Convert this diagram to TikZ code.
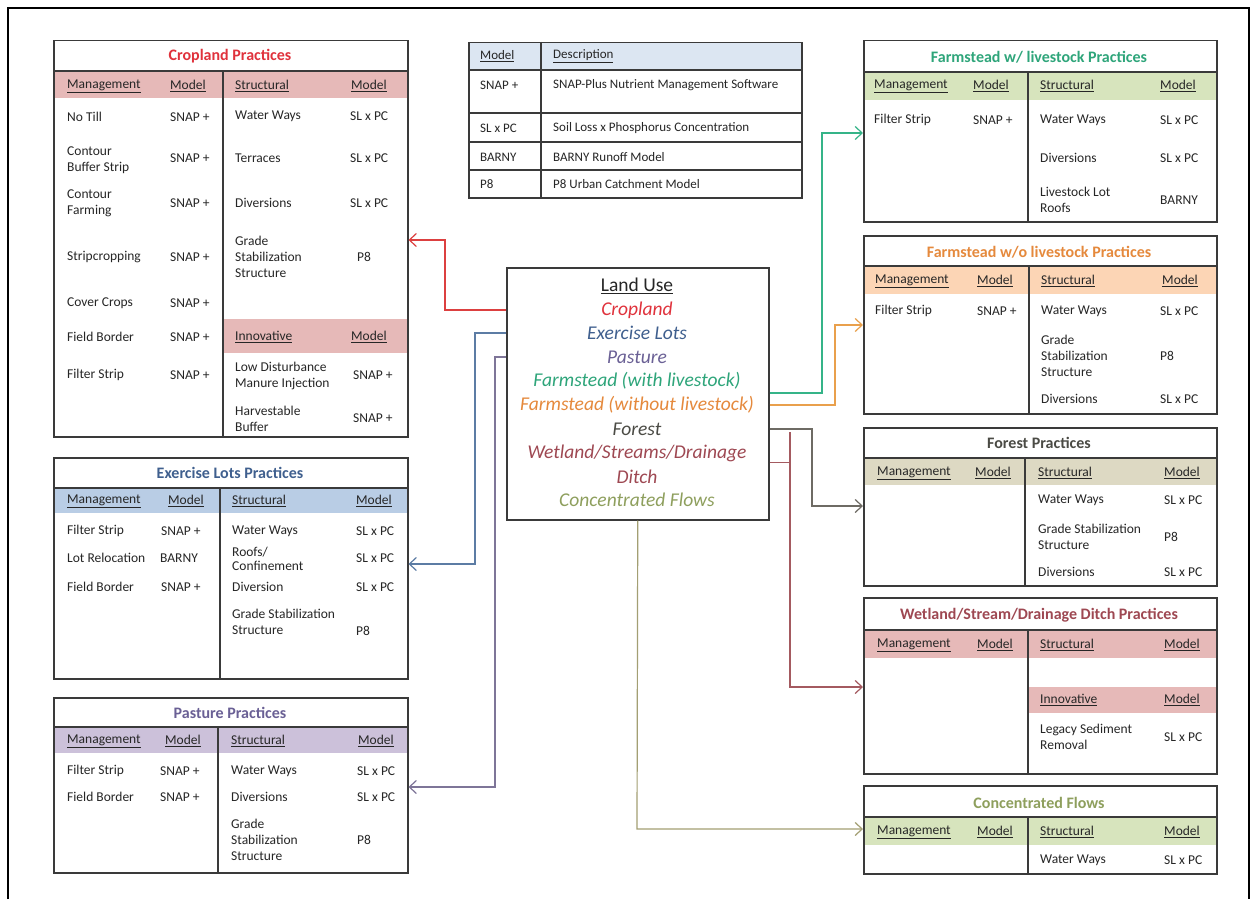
\documentclass[tikz,border=0pt]{standalone}
\usepackage{fontspec}
\setmainfont{Carlito}
\usepackage{tikz}
\usetikzlibrary{arrows.meta,positioning,calc}

\definecolor{framegray}{HTML}{3A3A3A}
\definecolor{textgray}{HTML}{262626}
\definecolor{cropred}{HTML}{E0323C}
\definecolor{cropline}{HTML}{DC4040}
\definecolor{cropfill}{HTML}{E6B9B8}
\definecolor{exblue}{HTML}{3F5F8E}
\definecolor{exline}{HTML}{5C7CA4}
\definecolor{exfill}{HTML}{B9CDE5}
\definecolor{pasviolet}{HTML}{6A6095}
\definecolor{pasline}{HTML}{7E7598}
\definecolor{pasfill}{HTML}{CCC1DA}
\definecolor{fwgreen}{HTML}{2EA57A}
\definecolor{fwline}{HTML}{35B488}
\definecolor{fwfill}{HTML}{D7E4BD}
\definecolor{fwoorange}{HTML}{E5893C}
\definecolor{fwoline}{HTML}{E9A04C}
\definecolor{fwofill}{HTML}{FCD5B5}
\definecolor{forgray}{HTML}{4B4B45}
\definecolor{forline}{HTML}{6E6B64}
\definecolor{forfill}{HTML}{DDD9C3}
\definecolor{wetred}{HTML}{9E4852}
\definecolor{wetline}{HTML}{A45A60}
\definecolor{wetfill}{HTML}{E6B9B8}
\definecolor{concolive}{HTML}{8E9F5D}
\definecolor{concline}{HTML}{A39F73}
\definecolor{concfill}{HTML}{D7E4BD}
\definecolor{legendfill}{HTML}{DCE6F2}

\begin{document}
\begin{tikzpicture}[
  x=1pt, y=-1pt,
  panel/.style={draw=framegray, line width=1.5pt, anchor=north west, inner sep=0pt},
  sepline/.style={draw=framegray, line width=1.5pt},
  boxtitle/.style={font=\fontsize{16}{19}\selectfont\bfseries},
  cell/.style={anchor=west, inner sep=0pt, align=left, font=\fontsize{13.5}{16}\selectfont, text=textgray},
  legendcell/.style={cell, font=\fontsize{13}{15}\selectfont},
  landhead/.style={font=\fontsize{19.5}{23}\selectfont, text=textgray},
  landuse/.style={font=\fontsize{19.5}{23}\selectfont\itshape},
  arrow/.style={->, >={Straight Barb[length=7pt,width=13pt]}, line width=1.2pt}
]
\useasboundingbox (0,0) rectangle (1257,899);
\fill[white] (0,0) rectangle (1257,899);
\draw[line width=1.2pt] (8,899) -- (8,8) -- (1249,8) -- (1249,899);

% Cropland practices (top left)
\fill[cropfill] (53,71) rectangle (407,98);
\fill[cropfill] (223,319) rectangle (407,353);
\node[panel, minimum width=354pt, minimum height=396pt] (crop) at (53,40) {};
\node[boxtitle, text=cropred] (crop-title) at (230,56) {Cropland Practices};
\draw[sepline] (53,71) -- (407,71);
\draw[sepline] (223,71) -- (223,436);
\node[cell] (crop-h1) at (67,86) {\underline{Management}};
\node[cell] (crop-h2) at (170,86) {\underline{Model}};
\node[cell] (crop-h3) at (235,86) {\underline{Structural}};
\node[cell] (crop-h4) at (351,86) {\underline{Model}};
\node[cell] (crop-m1) at (67,117) {No Till};
\node[cell] (crop-mm1) at (170,117) {SNAP +};
\node[cell] (crop-m2) at (67,160) {Contour\\Buffer Strip};
\node[cell] (crop-mm2) at (170,158) {SNAP +};
\node[cell] (crop-m3) at (67,203) {Contour\\Farming};
\node[cell] (crop-mm3) at (170,203) {SNAP +};
\node[cell] (crop-m4) at (67,257) {Stripcropping};
\node[cell] (crop-mm4) at (170,257) {SNAP +};
\node[cell] (crop-m5) at (67,303) {Cover Crops};
\node[cell] (crop-mm5) at (170,303) {SNAP +};
\node[cell] (crop-m6) at (67,337) {Field Border};
\node[cell] (crop-mm6) at (170,337) {SNAP +};
\node[cell] (crop-m7) at (67,375) {Filter Strip};
\node[cell] (crop-mm7) at (170,375) {SNAP +};
\node[cell] (crop-s1) at (235,116) {Water Ways};
\node[cell] (crop-sm1) at (350,116) {SL x PC};
\node[cell] (crop-s2) at (235,158) {Terraces};
\node[cell] (crop-sm2) at (350,158) {SL x PC};
\node[cell] (crop-s3) at (235,203) {Diversions};
\node[cell] (crop-sm3) at (350,203) {SL x PC};
\node[cell] (crop-s4) at (235,257) {Grade\\Stabilization\\Structure};
\node[cell] (crop-sm4) at (357,257) {P8};
\node[cell] (crop-h5) at (235,337) {\underline{Innovative}};
\node[cell] (crop-h6) at (351,337) {\underline{Model}};
\node[cell] (crop-i1) at (235,376) {Low Disturbance\\Manure Injection};
\node[cell] (crop-im1) at (353,375) {SNAP +};
\node[cell] (crop-i2) at (235,419) {Harvestable\\Buffer};
\node[cell] (crop-im2) at (353,418) {SNAP +};

% Exercise lots practices (middle left)
\fill[exfill] (53,488) rectangle (407,513);
\node[panel, minimum width=354pt, minimum height=221pt] (ex) at (53,457) {};
\node[boxtitle, text=exblue] (ex-title) at (230,473) {Exercise Lots Practices};
\draw[sepline] (53,488) -- (407,488);
\draw[sepline] (220,488) -- (220,678);
\node[cell] (ex-h1) at (67,501) {\underline{Management}};
\node[cell] (ex-h2) at (168,501) {\underline{Model}};
\node[cell] (ex-h3) at (232,501) {\underline{Structural}};
\node[cell] (ex-h4) at (356,501) {\underline{Model}};
\node[cell] (ex-m1) at (67,531) {Filter Strip};
\node[cell] (ex-mm1) at (161,531) {SNAP +};
\node[cell] (ex-m2) at (67,558) {Lot Relocation};
\node[cell] (ex-mm2) at (160,558) {BARNY};
\node[cell] (ex-m3) at (67,587) {Field Border};
\node[cell] (ex-mm3) at (161,587) {SNAP +};
\node[cell] (ex-s1) at (232,531) {Water Ways};
\node[cell] (ex-sm1) at (356,531) {SL x PC};
\node[cell] (ex-s2) at (232,559) {Roofs/\\[-2pt]Confinement};
\node[cell] (ex-sm2) at (356,558) {SL x PC};
\node[cell] (ex-s3) at (232,587) {Diversion};
\node[cell] (ex-sm3) at (356,587) {SL x PC};
\node[cell] (ex-s4) at (232,622) {Grade Stabilization\\Structure};
\node[cell] (ex-sm4) at (356,631) {P8};

% Pasture practices (bottom left)
\fill[pasfill] (53,727) rectangle (407,753);
\node[panel, minimum width=354pt, minimum height=175pt] (pas) at (53,697) {};
\node[boxtitle, text=pasviolet] (pas-title) at (230,713) {Pasture Practices};
\draw[sepline] (53,727) -- (407,727);
\draw[sepline] (218,727) -- (218,872);
\node[cell] (pas-h1) at (67,741) {\underline{Management}};
\node[cell] (pas-h2) at (165,741) {\underline{Model}};
\node[cell] (pas-h3) at (231,741) {\underline{Structural}};
\node[cell] (pas-h4) at (358,741) {\underline{Model}};
\node[cell] (pas-m1) at (67,771) {Filter Strip};
\node[cell] (pas-mm1) at (160,771) {SNAP +};
\node[cell] (pas-m2) at (67,797) {Field Border};
\node[cell] (pas-mm2) at (160,797) {SNAP +};
\node[cell] (pas-s1) at (231,771) {Water Ways};
\node[cell] (pas-sm1) at (357,771) {SL x PC};
\node[cell] (pas-s2) at (231,797) {Diversions};
\node[cell] (pas-sm2) at (357,797) {SL x PC};
\node[cell] (pas-s3) at (231,840) {Grade\\Stabilization\\Structure};
\node[cell] (pas-sm3) at (357,840) {P8};

% Model legend (top middle)
\fill[legendfill] (468,42) rectangle (801,70);
\node[panel, minimum width=333pt, minimum height=155pt] (legend) at (468,42) {};
\draw[sepline] (468,70) -- (801,70);
\draw[sepline] (468,113) -- (801,113);
\draw[sepline] (468,142) -- (801,142);
\draw[sepline] (468,170) -- (801,170);
\draw[sepline] (541,42) -- (541,197);
\node[legendcell] (legend-h1) at (480,56) {\underline{Model}};
\node[legendcell] (legend-h2) at (553,56) {\underline{Description}};
\node[legendcell] (legend-m1) at (480,85) {SNAP +};
\node[legendcell] (legend-d1) at (553,85) {SNAP-Plus Nutrient Management Software};
\node[legendcell] (legend-m2) at (480,128) {SL x PC};
\node[legendcell] (legend-d2) at (553,128) {Soil Loss x Phosphorus Concentration};
\node[legendcell] (legend-m3) at (480,157) {BARNY};
\node[legendcell] (legend-d3) at (553,157) {BARNY Runoff Model};
\node[legendcell] (legend-m4) at (480,184) {P8};
\node[legendcell] (legend-d4) at (553,184) {P8 Urban Catchment Model};

% Land use (centre)
\node[panel, minimum width=262pt, minimum height=252pt] (lu) at (506,267) {};
\node[landhead] (lu-head) at (637,286) {\underline{Land Use}};
\node[landuse, text=cropred] (lu-crop) at (637,310) {Cropland};
\node[landuse, text=exblue] (lu-ex) at (637,333) {Exercise Lots};
\node[landuse, text=pasviolet] (lu-pas) at (637,357) {Pasture};
\node[landuse, text=fwgreen] (lu-fw) at (637,381) {Farmstead (with livestock)};
\node[landuse, text=fwoorange] (lu-fwo) at (637,405) {Farmstead (without livestock)};
\node[landuse, text=forgray] (lu-for) at (637,429) {Forest};
\node[landuse, text=wetred] (lu-wet) at (637,453) {Wetland/Streams/Drainage};
\node[landuse, text=wetred] (lu-ditch) at (637,477) {Ditch};
\node[landuse, text=concolive] (lu-conc) at (637,500) {Concentrated Flows};

% Farmstead with livestock practices (top right)
\fill[fwfill] (863,72) rectangle (1216,100);
\node[panel, minimum width=353pt, minimum height=181pt] (fw) at (863,40) {};
\node[boxtitle, text=fwgreen] (fw-title) at (1039,57) {Farmstead w/ livestock Practices};
\draw[sepline] (863,72) -- (1216,72);
\draw[sepline] (1028,72) -- (1028,221);
\node[cell] (fw-h1) at (874,86) {\underline{Management}};
\node[cell] (fw-h2) at (973,86) {\underline{Model}};
\node[cell] (fw-h3) at (1040,86) {\underline{Structural}};
\node[cell] (fw-h4) at (1160,86) {\underline{Model}};
\node[cell] (fw-m1) at (874,120) {Filter Strip};
\node[cell] (fw-mm1) at (973,120) {SNAP +};
\node[cell] (fw-s1) at (1040,120) {Water Ways};
\node[cell] (fw-sm1) at (1160,120) {SL x PC};
\node[cell] (fw-s2) at (1040,158) {Diversions};
\node[cell] (fw-sm2) at (1160,158) {SL x PC};
\node[cell] (fw-s3) at (1040,200) {Livestock Lot\\Roofs};
\node[cell] (fw-sm3) at (1160,200) {BARNY};

% Farmstead without livestock practices
\fill[fwofill] (863,266) rectangle (1216,294);
\node[panel, minimum width=353pt, minimum height=178pt] (fwo) at (863,235) {};
\node[boxtitle, text=fwoorange] (fwo-title) at (1039,252) {Farmstead w/o livestock Practices};
\draw[sepline] (863,266) -- (1216,266);
\draw[sepline] (1029,266) -- (1029,413);
\node[cell] (fwo-h1) at (875,281) {\underline{Management}};
\node[cell] (fwo-h2) at (977,281) {\underline{Model}};
\node[cell] (fwo-h3) at (1041,281) {\underline{Structural}};
\node[cell] (fwo-h4) at (1162,281) {\underline{Model}};
\node[cell] (fwo-m1) at (875,311) {Filter Strip};
\node[cell] (fwo-mm1) at (977,311) {SNAP +};
\node[cell] (fwo-s1) at (1041,311) {Water Ways};
\node[cell] (fwo-sm1) at (1160,311) {SL x PC};
\node[cell] (fwo-s2) at (1041,356) {Grade\\Stabilization\\Structure};
\node[cell] (fwo-sm2) at (1160,356) {P8};
\node[cell] (fwo-s3) at (1041,399) {Diversions};
\node[cell] (fwo-sm3) at (1160,399) {SL x PC};

% Forest practices
\fill[forfill] (863,458) rectangle (1216,485);
\node[panel, minimum width=353pt, minimum height=158pt] (for) at (863,427) {};
\node[boxtitle, text=forgray] (for-title) at (1039,443) {Forest Practices};
\draw[sepline] (863,458) -- (1216,458);
\draw[sepline] (1025,458) -- (1025,585);
\node[cell] (for-h1) at (877,473) {\underline{Management}};
\node[cell] (for-h2) at (975,473) {\underline{Model}};
\node[cell] (for-h3) at (1038,473) {\underline{Structural}};
\node[cell] (for-h4) at (1164,473) {\underline{Model}};
\node[cell] (for-s1) at (1038,500) {Water Ways};
\node[cell] (for-sm1) at (1164,500) {SL x PC};
\node[cell] (for-s2) at (1038,537) {Grade Stabilization\\Structure};
\node[cell] (for-sm2) at (1164,537) {P8};
\node[cell] (for-s3) at (1038,572) {Diversions};
\node[cell] (for-sm3) at (1164,572) {SL x PC};

% Wetland practices
\fill[wetfill] (863,630) rectangle (1216,658);
\fill[wetfill] (1028,687) rectangle (1216,713);
\node[panel, minimum width=353pt, minimum height=176pt] (wet) at (863,597) {};
\node[boxtitle, text=wetred] (wet-title) at (1039,615) {Wetland/Stream/Drainage Ditch Practices};
\draw[sepline] (863,630) -- (1216,630);
\draw[sepline] (1028,630) -- (1028,773);
\node[cell] (wet-h1) at (877,645) {\underline{Management}};
\node[cell] (wet-h2) at (977,645) {\underline{Model}};
\node[cell] (wet-h3) at (1040,645) {\underline{Structural}};
\node[cell] (wet-h4) at (1164,645) {\underline{Model}};
\node[cell] (wet-h5) at (1040,700) {\underline{Innovative}};
\node[cell] (wet-h6) at (1164,700) {\underline{Model}};
\node[cell] (wet-i1) at (1040,737) {Legacy Sediment\\Removal};
\node[cell] (wet-im1) at (1164,737) {SL x PC};

% Concentrated flows (bottom right)
\fill[concfill] (863,817) rectangle (1216,845);
\node[panel, minimum width=353pt, minimum height=88pt] (conc) at (863,785) {};
\node[boxtitle, text=concolive] (conc-title) at (1039,803) {Concentrated Flows};
\draw[sepline] (863,817) -- (1216,817);
\draw[sepline] (1028,817) -- (1028,873);
\node[cell] (conc-h1) at (877,832) {\underline{Management}};
\node[cell] (conc-h2) at (977,832) {\underline{Model}};
\node[cell] (conc-h3) at (1040,832) {\underline{Structural}};
\node[cell] (conc-h4) at (1164,832) {\underline{Model}};
\node[cell] (conc-s1) at (1040,860) {Water Ways};
\node[cell] (conc-sm1) at (1164,860) {SL x PC};

% Connectors
\coordinate (crop-bend) at (445,240);
\coordinate (ex-bend) at (475,564);
\coordinate (pas-bend) at (495,787);
\coordinate (fw-start) at ($(lu.east |- lu-fw)+(0,12)$);
\coordinate (fw-bend) at (822,133);
\coordinate (fwo-bend) at (835,325);
\coordinate (for-bend) at (812,506);
\coordinate (wet-start) at ($(lu.east |- lu-wet)!0.4!(lu.east |- lu-ditch)$);
\coordinate (wet-top) at (790,432);
\coordinate (wet-bend) at (790,687);
\coordinate (conc-bend) at (637,829);

\draw[arrow, cropline] (lu.west |- lu-crop) -| (crop-bend) -- (crop.east |- crop-bend);
\draw[arrow, exline] (lu.west |- lu-ex) -| (ex-bend) -- (ex.east |- ex-bend);
\draw[arrow, pasline] (lu.west |- lu-pas) -| (pas-bend) -- (pas.east |- pas-bend);
\draw[arrow, fwline] (fw-start) -| (fw-bend) -- (fw.west |- fw-bend);
\draw[arrow, fwoline] (lu.east |- lu-fwo) -| (fwo-bend) -- (fwo.west |- fwo-bend);
\draw[arrow, forline] (lu.east |- lu-for) -| (for-bend) -- (for.west |- for-bend);
\draw[wetline, line width=1.2pt] (wet-start) -- (wet-start -| wet-top);
\draw[arrow, wetline] (wet-top) -- (wet-bend) -- (wet.west |- wet-bend);
\draw[arrow, concline] (lu.south) -- (conc-bend) -- (conc.west |- conc-bend);

\end{tikzpicture}
\end{document}
